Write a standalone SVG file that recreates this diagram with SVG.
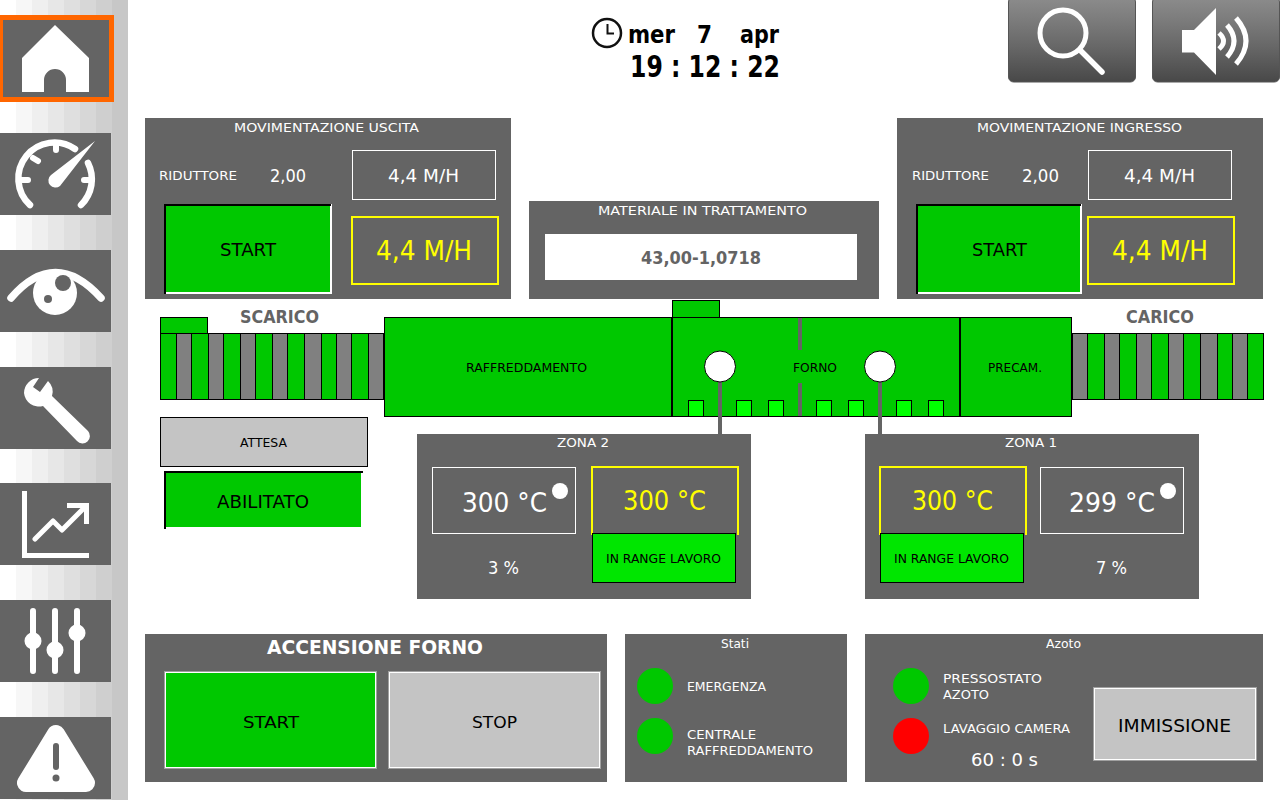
<svg xmlns="http://www.w3.org/2000/svg" width="1280" height="800" viewBox="0 0 1280 800">
<style>
text{font-family:"DejaVu Sans","Liberation Sans",sans-serif}
.p{fill:#646464}
.g{fill:#00c800;stroke:#000;stroke-width:1;shape-rendering:crispEdges}
.c{fill:#808080;stroke:#000;stroke-width:1;shape-rendering:crispEdges}
.s{fill:#00ff00;stroke:#000;stroke-width:1;shape-rendering:crispEdges}
.wb{fill:none;stroke:#fff;stroke-width:1;shape-rendering:crispEdges}
.yb{fill:none;stroke:#ff0;stroke-width:2;shape-rendering:crispEdges}
.r{fill:#00e600;stroke:#000;stroke-width:1;shape-rendering:crispEdges}
.w{fill:#fff}.y{fill:#ff0}.k{fill:#000}.d{fill:#646464;font-weight:bold}
.i{fill:none;stroke:#fff;stroke-linecap:round;stroke-linejoin:round}
.btn{fill:#646464}
.led{fill:#00c800}
.bb{stroke:#a0a0a0;stroke-width:1;shape-rendering:crispEdges}
.bw{fill:none;stroke:#fff;stroke-width:1;shape-rendering:crispEdges}
</style>
<defs>
<linearGradient id="tb" x1="0" y1="0" x2="0" y2="1">
<stop offset="0" stop-color="#8c8c8c"/><stop offset="0.3" stop-color="#7a7a7a"/><stop offset="0.6" stop-color="#666"/><stop offset="1" stop-color="#484848"/>
</linearGradient>
</defs>
<rect width="1280" height="800" fill="#fff"/>
<g id="sidebar-bg" shape-rendering="crispEdges">
<rect x="16" width="16" height="800" fill="#f7f7f7"/>
<rect x="32" width="16" height="800" fill="#efefef"/>
<rect x="48" width="16" height="800" fill="#e7e7e7"/>
<rect x="64" width="16" height="800" fill="#dfdfdf"/>
<rect x="80" width="16" height="800" fill="#d7d7d7"/>
<rect x="96" width="16" height="800" fill="#cfcfcf"/>
<rect x="112" width="16" height="800" fill="#c7c7c7"/>
</g>
<g id="nav-home">
<rect y="15" width="114" height="87" fill="#ff6600" shape-rendering="crispEdges"/>
<rect x="3" y="20" width="106" height="77" class="btn" shape-rendering="crispEdges"/>
<path d="M55 25L89 58V92H66V80A11 11 0 0 0 44 80V92H22V58Z" fill="#fff"/>
</g>
<g id="nav-gauge">
<rect y="133" width="111" height="82" class="btn"/>
<path class="i" stroke-width="6.500" d="M30 205A36 36 0 0 1 75 149M88 163A36 36 0 0 1 81 205"/>
<path class="i" stroke-width="6" d="M56 143V150M33 158L38 161M20 180H28M84 180H92"/>
<path fill="#fff" d="M95 141L51 175A6.500 6.500 0 1 0 60 186Z"/>
</g>
<g id="nav-eye">
<rect y="250" width="111" height="82" class="btn"/>
<path class="i" stroke-width="7.500" d="M11 298Q55 247 101 298"/>
<circle cx="55" cy="293" r="22" fill="#fff"/>
<circle cx="63" cy="283" r="8" fill="#646464"/>
<circle cx="48" cy="299" r="4" fill="#646464"/>
</g>
<g id="nav-wrench">
<rect y="367" width="111" height="82" class="btn"/>
<path fill="#fff" d="M39 378A15 15 0 0 0 24 393A15 15 0 0 0 43 406L77 441A5.500 5.500 0 0 0 88 431L52 396A15 15 0 0 0 48 381L40 392L33 387Z"/>
</g>
<g id="nav-chart">
<rect y="483" width="111" height="82" class="btn"/>
<path fill="none" stroke="#fff" stroke-width="5" d="M24.500 491V555.500H89"/>
<path class="i" stroke-width="5" d="M35 539L53 521L62 530L85 507"/>
<path fill="none" stroke="#fff" stroke-width="5" d="M67 505.500H86.500V524"/>
</g>
<g id="nav-sliders">
<rect y="600" width="111" height="82" class="btn"/>
<path class="i" stroke-width="6" d="M33 611V671M55 611V671M77 611V671"/>
<circle cx="33" cy="641" r="8.500" fill="#fff"/>
<circle cx="55" cy="650" r="8.500" fill="#fff"/>
<circle cx="77" cy="633" r="8.500" fill="#fff"/>
</g>
<g id="nav-alarm">
<rect y="717" width="111" height="82" class="btn"/>
<path fill="#fff" stroke="#fff" stroke-width="18" stroke-linejoin="round" d="M56 734L26 783H86Z"/>
<path stroke="#646464" stroke-width="6" stroke-linecap="round" d="M56 746V767"/>
<circle cx="56" cy="778" r="3.500" fill="#646464"/>
</g>
<g id="clock">
<circle cx="607" cy="33" r="14" fill="none" stroke="#111" stroke-width="2.500"/>
<path d="M607.500 24V33.500H614" fill="none" stroke="#111" stroke-width="2"/>
<text x="628" y="43" font-size="25" font-weight="bold" fill="#000" textLength="47" lengthAdjust="spacingAndGlyphs">mer</text>
<text x="697" y="43" font-size="25" font-weight="bold" fill="#000" textLength="15" lengthAdjust="spacingAndGlyphs">7</text>
<text x="740" y="43" font-size="25" font-weight="bold" fill="#000" textLength="39" lengthAdjust="spacingAndGlyphs">apr</text>
<text x="630" y="77" font-size="30" font-weight="bold" fill="#000" textLength="150" lengthAdjust="spacingAndGlyphs">19 : 12 : 22</text>
</g>
<g id="btn-search">
<rect x="1008.500" y="-3" width="127" height="85" rx="5" fill="url(#tb)" stroke="#555"/>
<circle cx="1063" cy="33" r="23" fill="none" stroke="#fff" stroke-width="5"/>
<path d="M1080 50L1102 72" stroke="#fff" stroke-width="5.500" stroke-linecap="round"/>
</g>
<g id="btn-sound">
<rect x="1152.500" y="-3" width="127" height="85" rx="5" fill="url(#tb)" stroke="#555"/>
<path fill="#fff" d="M1182 30H1194L1216 8V75L1194 52.500H1182Z"/>
<path fill="none" stroke="#fff" stroke-width="5" d="M1219 33Q1228 41 1219 49M1227 25Q1241 41 1227 57M1236 18Q1256 41 1236 64"/>
</g>
<g id="mov-uscita">
<rect x="145" y="118" width="366" height="181" class="p"/>
<text x="234" y="132" font-size="12.500" class="w" textLength="185" lengthAdjust="spacingAndGlyphs">MOVIMENTAZIONE USCITA</text>
<text x="159" y="180" font-size="12" class="w" textLength="78" lengthAdjust="spacingAndGlyphs">RIDUTTORE</text>
<text x="270" y="182" font-size="18" class="w" textLength="36" lengthAdjust="spacingAndGlyphs">2,00</text>
<rect x="352.500" y="150.500" width="143" height="49" class="wb"/>
<text x="388" y="182" font-size="18" class="w" textLength="71" lengthAdjust="spacingAndGlyphs">4,4 M/H</text>
<rect x="352" y="217" width="146" height="67" class="yb"/>
<text x="376" y="260" font-size="26" class="y" textLength="96" lengthAdjust="spacingAndGlyphs">4,4 M/H</text>
<rect x="164" y="204" width="168" height="90" fill="#fff" shape-rendering="crispEdges"/>
<path d="M164 204H331V206H166V294H164Z" fill="#000" shape-rendering="crispEdges"/>
<rect x="166" y="206" width="164" height="86" fill="#00c800" shape-rendering="crispEdges"/>
<text x="220" y="256" font-size="17" class="k" textLength="56" lengthAdjust="spacingAndGlyphs">START</text>
</g>
<g id="mov-ingresso">
<rect x="897" y="118" width="366" height="181" class="p"/>
<text x="977" y="132" font-size="12.500" class="w" textLength="205" lengthAdjust="spacingAndGlyphs">MOVIMENTAZIONE INGRESSO</text>
<text x="912" y="180" font-size="12" class="w" textLength="77" lengthAdjust="spacingAndGlyphs">RIDUTTORE</text>
<text x="1022" y="182" font-size="18" class="w" textLength="37" lengthAdjust="spacingAndGlyphs">2,00</text>
<rect x="1088.500" y="150.500" width="143" height="49" class="wb"/>
<text x="1124" y="182" font-size="18" class="w" textLength="71" lengthAdjust="spacingAndGlyphs">4,4 M/H</text>
<rect x="1088" y="217" width="146" height="67" class="yb"/>
<text x="1112" y="260" font-size="26" class="y" textLength="96" lengthAdjust="spacingAndGlyphs">4,4 M/H</text>
<rect x="916" y="204" width="166" height="90" fill="#fff" shape-rendering="crispEdges"/>
<path d="M916 204H1081V206H918V294H916Z" fill="#000" shape-rendering="crispEdges"/>
<rect x="918" y="206" width="162" height="86" fill="#00c800" shape-rendering="crispEdges"/>
<text x="972" y="256" font-size="17" class="k" textLength="55" lengthAdjust="spacingAndGlyphs">START</text>
</g>
<g id="materiale">
<rect x="529" y="201" width="350" height="98" class="p"/>
<text x="598" y="215" font-size="12.500" class="w" textLength="209" lengthAdjust="spacingAndGlyphs">MATERIALE IN TRATTAMENTO</text>
<rect x="545" y="234" width="312" height="46" fill="#fff"/>
<text x="641" y="264" font-size="17" class="d" textLength="120" lengthAdjust="spacingAndGlyphs">43,00-1,0718</text>
</g>
<g id="scarico">
<text x="240" y="323" font-size="17" class="d" textLength="79" lengthAdjust="spacingAndGlyphs">SCARICO</text>
<rect x="160.500" y="317.500" width="47" height="16" class="g"/>
<rect x="160.500" y="333.500" width="16" height="66" class="g"/>
<rect x="176.500" y="333.500" width="15" height="66" class="c"/>
<rect x="191.500" y="333.500" width="17" height="66" class="g"/>
<rect x="208.500" y="333.500" width="15" height="66" class="c"/>
<rect x="223.500" y="333.500" width="17" height="66" class="g"/>
<rect x="240.500" y="333.500" width="15" height="66" class="c"/>
<rect x="255.500" y="333.500" width="17" height="66" class="g"/>
<rect x="272.500" y="333.500" width="15" height="66" class="c"/>
<rect x="287.500" y="333.500" width="17" height="66" class="g"/>
<rect x="304.500" y="333.500" width="17" height="66" class="c"/>
<rect x="321.500" y="333.500" width="15" height="66" class="g"/>
<rect x="336.500" y="333.500" width="15" height="66" class="c"/>
<rect x="351.500" y="333.500" width="17" height="66" class="g"/>
<rect x="368.500" y="333.500" width="15" height="66" class="c"/>
</g>
<g id="carico">
<text x="1126" y="323" font-size="17" class="d" textLength="68" lengthAdjust="spacingAndGlyphs">CARICO</text>
<rect x="1072.500" y="333.500" width="15" height="66" class="c"/>
<rect x="1087.500" y="333.500" width="17" height="66" class="g"/>
<rect x="1104.500" y="333.500" width="15" height="66" class="c"/>
<rect x="1119.500" y="333.500" width="17" height="66" class="g"/>
<rect x="1136.500" y="333.500" width="15" height="66" class="c"/>
<rect x="1151.500" y="333.500" width="17" height="66" class="g"/>
<rect x="1168.500" y="333.500" width="15" height="66" class="c"/>
<rect x="1183.500" y="333.500" width="17" height="66" class="g"/>
<rect x="1200.500" y="333.500" width="17" height="66" class="c"/>
<rect x="1217.500" y="333.500" width="15" height="66" class="g"/>
<rect x="1232.500" y="333.500" width="15" height="66" class="c"/>
<rect x="1247.500" y="333.500" width="16" height="66" class="g"/>
</g>
<g id="raffreddamento">
<rect x="384.500" y="317.500" width="287" height="99" class="g"/>
<text x="466" y="372" font-size="13" class="k" textLength="121" lengthAdjust="spacingAndGlyphs">RAFFREDDAMENTO</text>
</g>
<g id="forno">
<rect x="672.500" y="300.500" width="47" height="16.500" class="g"/>
<rect x="672" y="317.500" width="288" height="99" class="g"/>
<path d="M672 317V417" stroke="#000" stroke-width="2" shape-rendering="crispEdges"/>
<rect x="798" y="318" width="4" height="32" fill="#646464"/>
<rect x="798" y="383" width="4" height="33" fill="#646464"/>
<text x="793" y="372" font-size="13" class="k" textLength="44" lengthAdjust="spacingAndGlyphs">FORNO</text>
<rect x="688.500" y="400.500" width="15" height="16" class="s"/>
<rect x="736.500" y="400.500" width="15" height="16" class="s"/>
<rect x="768.500" y="400.500" width="15" height="16" class="s"/>
<rect x="816.500" y="400.500" width="15" height="16" class="s"/>
<rect x="848.500" y="400.500" width="15" height="16" class="s"/>
<rect x="896.500" y="400.500" width="15" height="16" class="s"/>
<rect x="928.500" y="400.500" width="15" height="16" class="s"/>
</g>
<g id="precam">
<rect x="960.500" y="317.500" width="111" height="99" class="g"/>
<path d="M960 317V417" stroke="#000" stroke-width="2" shape-rendering="crispEdges"/>
<text x="988" y="372" font-size="13" class="k" textLength="54" lengthAdjust="spacingAndGlyphs">PRECAM.</text>
</g>
<g id="zona2">
<rect x="417" y="434" width="334" height="165" class="p"/>
<text x="557" y="447" font-size="12.500" class="w" textLength="52" lengthAdjust="spacingAndGlyphs">ZONA 2</text>
<rect x="432.500" y="467.500" width="143" height="66" class="wb"/>
<text x="462" y="512" font-size="27" class="w" textLength="85" lengthAdjust="spacingAndGlyphs">300 °C</text>
<circle cx="560" cy="491" r="8" fill="#fff"/>
<path d="M592 535V467H738V535" class="yb"/>
<text x="623" y="510" font-size="26" class="y" textLength="83" lengthAdjust="spacingAndGlyphs">300 °C</text>
<rect x="592.500" y="533.500" width="143" height="49" class="r"/>
<text x="606" y="563" font-size="13" class="k" textLength="115" lengthAdjust="spacingAndGlyphs">IN RANGE LAVORO</text>
<text x="488" y="574" font-size="17" class="w" textLength="31" lengthAdjust="spacingAndGlyphs">3 %</text>
</g>
<g id="zona1">
<rect x="865" y="434" width="334" height="165" class="p"/>
<text x="1005" y="447" font-size="12.500" class="w" textLength="52" lengthAdjust="spacingAndGlyphs">ZONA 1</text>
<path d="M880 535V467H1026V535" class="yb"/>
<text x="912" y="510" font-size="26" class="y" textLength="81" lengthAdjust="spacingAndGlyphs">300 °C</text>
<rect x="1040.500" y="467.500" width="143" height="66" class="wb"/>
<text x="1069" y="512" font-size="27" class="w" textLength="86" lengthAdjust="spacingAndGlyphs">299 °C</text>
<circle cx="1168" cy="491" r="8" fill="#fff"/>
<rect x="880.500" y="533.500" width="143" height="49" class="r"/>
<text x="894" y="563" font-size="13" class="k" textLength="115" lengthAdjust="spacingAndGlyphs">IN RANGE LAVORO</text>
<text x="1096" y="574" font-size="17" class="w" textLength="31" lengthAdjust="spacingAndGlyphs">7 %</text>
</g>
<g id="connectors" fill="#646464">
<rect x="718" y="380" width="4" height="54"/>
<rect x="878" y="380" width="4" height="54"/>
</g>
<g id="sensor-2"><circle cx="720" cy="366.500" r="15.500" fill="#fff" stroke="#000"/></g>
<g id="sensor-1"><circle cx="880" cy="366.500" r="15.500" fill="#fff" stroke="#000"/></g>
<g id="attesa">
<rect x="160.500" y="417.500" width="207" height="49" fill="#c4c4c4" stroke="#000" shape-rendering="crispEdges"/>
<text x="240" y="447" font-size="13" class="k" textLength="47" lengthAdjust="spacingAndGlyphs">ATTESA</text>
</g>
<g id="abilitato">
<path d="M164 471H363V473H166V529H164Z" fill="#000" shape-rendering="crispEdges"/>
<rect x="166" y="473" width="195" height="54" fill="#00c800" shape-rendering="crispEdges"/>
<text x="217" y="508" font-size="17" class="k" textLength="92" lengthAdjust="spacingAndGlyphs">ABILITATO</text>
</g>
<g id="accensione">
<rect x="145" y="634" width="462" height="148" class="p"/>
<text x="267" y="654" font-size="20" font-weight="bold" class="w" textLength="216" lengthAdjust="spacingAndGlyphs">ACCENSIONE FORNO</text>
<rect x="164.500" y="671.500" width="212" height="97" fill="#00c800" class="bb"/>
<rect x="165.500" y="672.500" width="210" height="95" class="bw"/>
<text x="243" y="728" font-size="16.500" class="k" textLength="56" lengthAdjust="spacingAndGlyphs">START</text>
<rect x="388.500" y="671.500" width="212" height="97" fill="#c4c4c4" class="bb"/>
<rect x="389.500" y="672.500" width="210" height="95" class="bw"/>
<text x="472" y="728" font-size="16.500" class="k" textLength="45" lengthAdjust="spacingAndGlyphs">STOP</text>
</g>
<g id="stati">
<rect x="625" y="634" width="222" height="148" class="p"/>
<text x="721" y="648" font-size="13" class="w" textLength="28" lengthAdjust="spacingAndGlyphs">Stati</text>
<circle cx="655" cy="686" r="18" class="led"/>
<circle cx="655" cy="736" r="18" class="led"/>
<text x="687" y="691" font-size="12" class="w" textLength="79" lengthAdjust="spacingAndGlyphs">EMERGENZA</text>
<text x="687" y="739" font-size="12" class="w" textLength="69" lengthAdjust="spacingAndGlyphs">CENTRALE</text>
<text x="687" y="755" font-size="12" class="w" textLength="126" lengthAdjust="spacingAndGlyphs">RAFFREDDAMENTO</text>
</g>
<g id="azoto">
<rect x="865" y="634" width="398" height="148" class="p"/>
<text x="1046" y="648" font-size="13" class="w" textLength="35" lengthAdjust="spacingAndGlyphs">Azoto</text>
<circle cx="911" cy="686" r="18" class="led"/>
<circle cx="911" cy="736" r="18" fill="#f00"/>
<text x="943" y="683" font-size="12" class="w" textLength="99" lengthAdjust="spacingAndGlyphs">PRESSOSTATO</text>
<text x="943" y="699" font-size="12" class="w" textLength="46" lengthAdjust="spacingAndGlyphs">AZOTO</text>
<text x="943" y="733" font-size="12" class="w" textLength="127" lengthAdjust="spacingAndGlyphs">LAVAGGIO CAMERA</text>
<text x="971" y="766" font-size="17" class="w" textLength="67" lengthAdjust="spacingAndGlyphs">60 : 0 s</text>
<rect x="1093.500" y="687.500" width="163" height="73" fill="#c4c4c4" class="bb"/>
<rect x="1094.500" y="688.500" width="161" height="71" class="bw"/>
<text x="1118" y="732" font-size="17" class="k" textLength="113" lengthAdjust="spacingAndGlyphs">IMMISSIONE</text>
</g>
</svg>
